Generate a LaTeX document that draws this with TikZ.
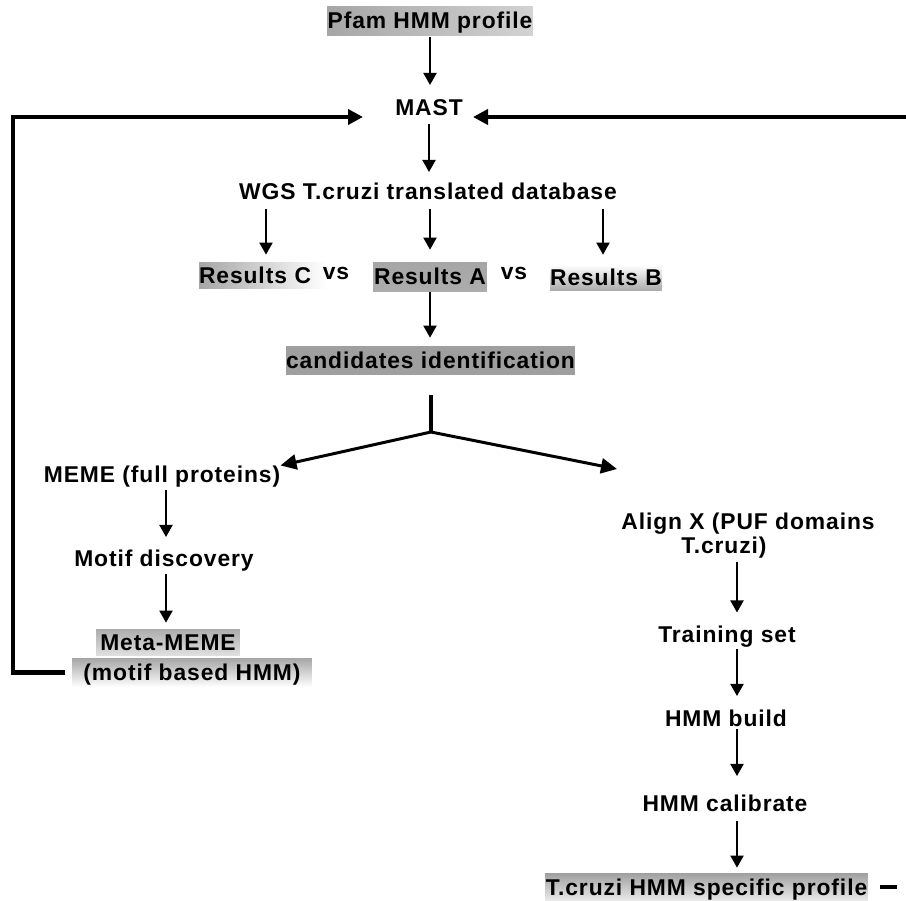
\documentclass[tikz,border=0pt]{standalone}
\usepackage{fontspec}
\setmainfont{Liberation Sans}[LetterSpace=4]
\usetikzlibrary{arrows.meta}
\begin{document}
\begin{tikzpicture}[x=0.02cm,y=-0.02cm,
txt/.style={font=\fontsize{13}{13.7}\selectfont\bfseries,inner sep=0pt,text height=9.3pt,text depth=0pt},
shbox/.style={txt,minimum height=5.8mm},
arr/.style={line width=1.1pt,-{Triangle[width=2.6mm,length=2.4mm]}},
fb/.style={line width=2.3pt,-{Triangle[width=3mm,length=3mm]}},
br/.style={line width=1.7pt,-{Triangle[width=3mm,length=3.2mm]}}]
\useasboundingbox (0,0) rectangle (906,900);
%top: profile, MAST, database
\node[shbox,minimum width=41.2mm,left color=gray!70,right color=gray!35] (pfam) at (430,20.5) {Pfam HMM profile};
\node[txt] (mast) at (429,107) {MAST};
\node[txt] (wgs) at (428,191.5) {WGS T.cruzi translated database};
%results
\node[shbox,text width=25.4mm,align=left,minimum height=5.2mm,shading angle=-60,left color=gray!70,right color=white] (resC) at (262.5,275) {Results C};
\node[txt] (vsA) at (336,271.5) {vs};
\node[shbox,minimum width=22.8mm,top color=gray!70,middle color=gray!35,bottom color=gray!65] (resA) at (430,276.5) {Results A};
\node[txt] (vsB) at (514,271.5) {vs};
\node[shbox,minimum width=22.4mm,minimum height=5mm,top color=white,bottom color=gray!65] (resB) at (606,277.5) {Results B};
\node[shbox,minimum width=57.8mm,fill=gray!75] (cand) at (430.5,360.5) {candidates identification};
\coordinate (split) at (431,432);
\coordinate (brR) at (617,469);
%left branch
\node[txt] (meme) at (162,474) {MEME (full proteins)};
\node[txt] (motif) at (164,558) {Motif discovery};
\node[shbox,minimum width=28.8mm,minimum height=5.2mm,top color=gray!65,bottom color=gray!25] (metaA) at (168,642) {Meta-MEME};
\node[shbox,minimum width=48mm,top color=gray!70,bottom color=white] (metaB) at (192,672.5) {(motif based HMM)};
%right branch
\coordinate (ax) at (737,0);
\node[txt,align=left,text height=,text depth=] (align) at (748,536) {Align X (PUF domains\\\hspace*{12mm}T.cruzi)};
\node[txt] (train) at (727,634.5) {Training set};
\node[txt] (build) at (726,718.5) {HMM build};
\node[txt] (calib) at (725,803.5) {HMM calibrate};
\node[shbox,minimum width=64.6mm,minimum height=5.6mm,top color=gray!75,bottom color=gray!15] (prof) at (706.5,887) {T.cruzi HMM specific profile};
%arrows
\draw[arr,shorten <=0.4mm,shorten >=2.7mm] (pfam.south) -- (pfam.south |- mast.north);
\draw[arr,shorten <=1.7mm,shorten >=2.2mm] (mast.south) -- (mast.south |- wgs.north);
\draw[arr,shorten <=1.8mm,shorten >=1.4mm] (wgs.south -| 266,0) -- (266,0 |- resC.north);
\draw[arr,shorten <=1.8mm,shorten >=2.4mm] (wgs.south -| resA.north) -- (resA.north);
\draw[arr,shorten <=1.8mm,shorten >=2mm] (wgs.south -| 603,0) -- (603,0 |- resB.north);
\draw[arr,shorten <=0.2mm,shorten >=1.6mm] (resA.south) -- (resA.south |- cand.north);
\draw[line width=2.8pt,shorten <=4mm] (cand.south -| split) -- (split);
\draw[br] (split) -- (meme.north east);
\draw[br] (split) -- (brR);
\draw[arr,shorten <=1.5mm,shorten >=2.5mm] (meme.south -| 166,0) -- (166,0 |- motif.north);
\draw[arr,shorten <=1.5mm,shorten >=1.2mm] (motif.south -| 166,0) -- (166,0 |- metaA.north);
\draw[arr,shorten <=0.6mm,shorten >=2.7mm] (ax |- align.south) -- (ax |- train.north);
\draw[arr,shorten <=1.2mm,shorten >=2.8mm] (ax |- train.south) -- (ax |- build.north);
\draw[arr,shorten <=0.4mm,shorten >=3.8mm] (ax |- build.south) -- (ax |- calib.north);
\draw[arr,shorten <=1.8mm,shorten >=1mm] (ax |- calib.south) -- (ax |- prof.north);
%feedback to MAST
\coordinate (lftX) at (13,0);
\coordinate (mastL) at (363,117);
\coordinate (mastR) at (473,117);
\coordinate (edgeR) at (910,117);
\draw[fb,shorten <=1.4mm] (metaB.west) -- (lftX |- metaB.west) |- (mastL);
\draw[fb] (edgeR) -- (mastR);
\draw[line width=2.3pt,shorten <=2.4mm] (prof.east) -- ++(29,0);
\end{tikzpicture}
\end{document}
